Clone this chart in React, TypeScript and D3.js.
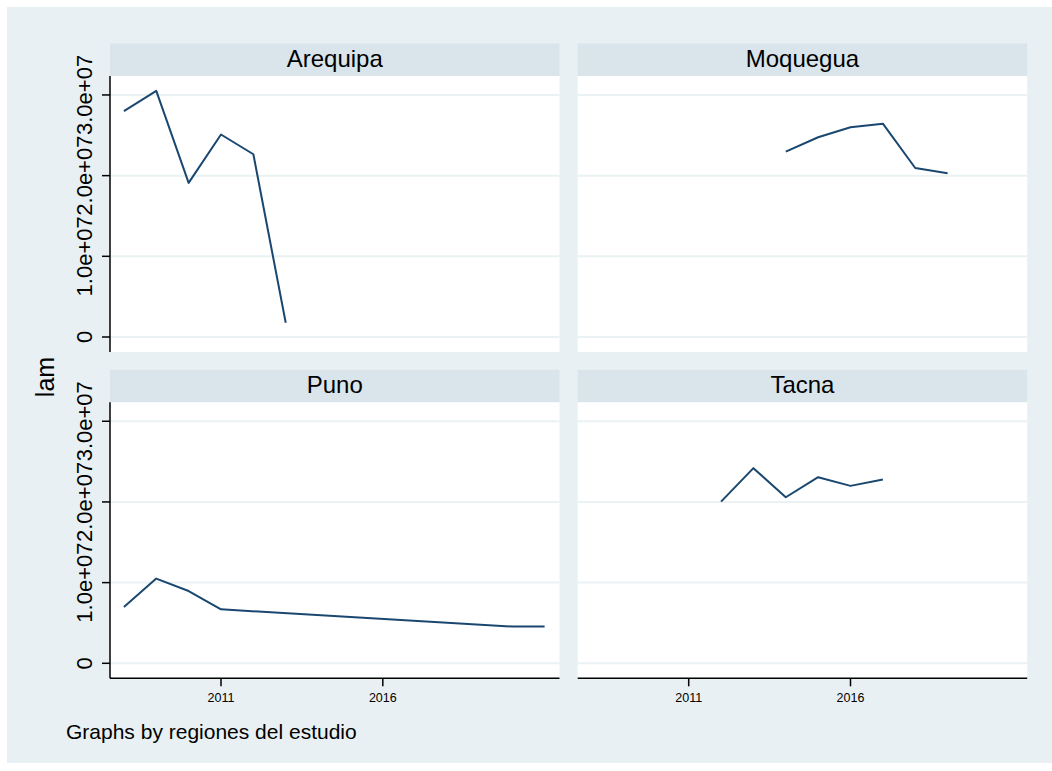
import React from "react";
import * as d3 from "d3";

// Series per region: years and lam values
const regions = ["Arequipa", "Moquegua", "Puno", "Tacna"];

const arequipaYears = [2008, 2009, 2010, 2011, 2012, 2013];
const arequipaLam = [2.80e7, 3.05e7, 1.91e7, 2.51e7, 2.265e7, 0.177e7];

const moqueguaYears = [2014, 2015, 2016, 2017, 2018, 2019];
const moqueguaLam = [2.297e7, 2.476e7, 2.60e7, 2.644e7, 2.095e7, 2.03e7];

const punoYears = [2008, 2009, 2010, 2011, 2020, 2021];
const punoLam = [0.698e7, 1.05e7, 0.896e7, 0.669e7, 0.455e7, 0.455e7];

const tacnaYears = [2012, 2013, 2014, 2015, 2016, 2017];
const tacnaLam = [2.004e7, 2.419e7, 2.058e7, 2.307e7, 2.199e7, 2.277e7];

const yTicks = [0, 1e7, 2e7, 3e7];
const yTickLabels = ["0", "1.0e+07", "2.0e+07", "3.0e+07"];
const xTicks = [2011, 2016];

const seriesYears = [arequipaYears, moqueguaYears, punoYears, tacnaYears];
const seriesLam = [arequipaLam, moqueguaLam, punoLam, tacnaLam];

const FONT = "'Liberation Sans', Arial, Helvetica, sans-serif";
const BG = "#e8f0f3";
const STRIP = "#d9e5eb";
const GRID = "#eaf2f3";
const LINE = "#1a476f";

const W = 1052;
const H = 771;
const panelW = 449.5;
const stripH = 32.5;
const plotH = 276;
const colX = [110, 577.7];
const rowY = [43.5, 369.8];

const xDomain: [number, number] = [2007.57, 2021.46];
const yDomain: [number, number] = [-0.186e7, 3.235e7];

export default function App() {
  const x = d3.scaleLinear().domain(xDomain).range([0, panelW]);
  const y = d3.scaleLinear().domain(yDomain).range([plotH, 0]);
  const line = d3
    .line<[number, number]>()
    .x((d) => x(d[0]))
    .y((d) => y(d[1]));

  return (
    <svg
      width={W}
      height={H}
      style={{ position: "absolute", left: 0, top: 0, display: "block" }}
      fontFamily={FONT}
    >
      <rect x={0} y={0} width={W} height={H} fill="#ffffff" />
      <rect x={7} y={7} width={W - 7} height={763 - 7} fill={BG} />

      {regions.map((name, i) => {
        const col = i % 2;
        const row = Math.floor(i / 2);
        const px = colX[col];
        const py = rowY[row];
        const plotTop = py + stripH;
        const pts: [number, number][] = seriesYears[i].map((yr, k) => [yr, seriesLam[i][k]]);
        return (
          <g key={name}>
            <rect x={px} y={py} width={panelW} height={stripH} fill={STRIP} />
            <text
              x={px + panelW / 2}
              y={py + 23.5}
              textAnchor="middle"
              fontSize={24}
              fill="#000"
            >
              {name}
            </text>
            <g transform={`translate(${px},${plotTop})`}>
              <rect x={0} y={0} width={panelW} height={plotH} fill="#ffffff" />
              {yTicks.map((t) => (
                <line
                  key={t}
                  x1={0}
                  x2={panelW}
                  y1={y(t)}
                  y2={y(t)}
                  stroke={GRID}
                  strokeWidth={2}
                />
              ))}
              <path d={line(pts) ?? ""} fill="none" stroke={LINE} strokeWidth={2} strokeLinejoin="round" />

              {col === 0 && (
                <g>
                  <line x1={0} x2={0} y1={0} y2={plotH} stroke="#000" strokeWidth={1.5} />
                  {yTicks.map((t, k) => (
                    <g key={t}>
                      <line x1={-8} x2={0} y1={y(t)} y2={y(t)} stroke="#000" strokeWidth={1.5} />
                      <text
                        transform={`translate(${-18},${y(t)}) rotate(-90)`}
                        textAnchor="middle"
                        fontSize={22}
                        fill="#000"
                      >
                        {yTickLabels[k]}
                      </text>
                    </g>
                  ))}
                </g>
              )}

              {row === 1 && (
                <g>
                  <line x1={0} x2={panelW} y1={plotH} y2={plotH} stroke="#000" strokeWidth={1.5} />
                  {xTicks.map((t) => (
                    <g key={t}>
                      <line x1={x(t)} x2={x(t)} y1={plotH} y2={plotH + 8} stroke="#000" strokeWidth={1.5} />
                      <text
                        x={x(t)}
                        y={plotH + 24}
                        textAnchor="middle"
                        fontSize={12.5}
                        fill="#000"
                      >
                        {t}
                      </text>
                    </g>
                  ))}
                </g>
              )}
            </g>
          </g>
        );
      })}

      <text
        transform={`translate(54,377) rotate(-90)`}
        textAnchor="middle"
        fontSize={25}
        fill="#000"
      >
        lam
      </text>
      <text x={66} y={739} fontSize={21} fill="#000">
        Graphs by regiones del estudio
      </text>
    </svg>
  );
}
